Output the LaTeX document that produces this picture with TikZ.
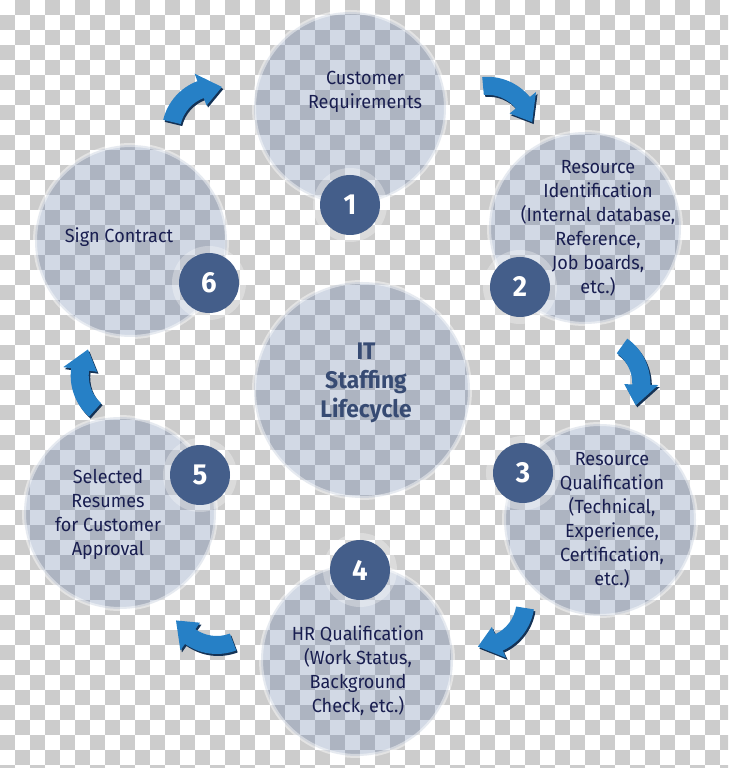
\documentclass[tikz,border=0pt]{standalone}
\usepackage{fontspec}
\setmainfont{Fira Sans}[FakeStretch=0.95]
\usetikzlibrary{positioning}
\definecolor{checkgray}{RGB}{204,204,204}
\definecolor{bubblefill}{RGB}{95,120,165}
\definecolor{badgeblue}{RGB}{68,94,138}
\definecolor{labelnavy}{RGB}{25,30,80}
\definecolor{titleblue}{RGB}{55,75,115}
\definecolor{arrowblue}{RGB}{38,128,198}
\definecolor{arrowdark}{RGB}{20,50,85}

\begin{document}
\begin{tikzpicture}[
  x=1pt, y=1pt,
  bubble/.style={circle, inner sep=0pt, minimum size=192pt,
                 fill=bubblefill, fill opacity=0.28,
                 draw=white, draw opacity=0.45, line width=4pt},
  hub/.style={bubble, minimum size=216pt},
  halo/.style={circle, inner sep=0pt, minimum size=74pt,
               fill=white, fill opacity=0.3},
  badge/.style={circle, inner sep=0pt, minimum size=60pt,
                fill=badgeblue, text=white,
                font=\fontsize{29}{29}\selectfont\bfseries},
  stagetext/.style={align=center, text=labelnavy,
                    font=\fontsize{19}{24}\selectfont},
  title/.style={align=center, text=titleblue,
                font=\fontsize{24}{29}\selectfont\bfseries},
  pics/bend/.style 2 args={code={
    \fill[arrowdark, shift={(1.5,-2)}] (#1:37) arc[start angle=#1, end angle=#2, radius=37]
      -- (#2:29) -- ({#2-27}:46) -- (#2:63) -- (#2:55)
      arc[start angle=#2, end angle=#1, radius=55] -- cycle;
    \fill[arrowblue] (#1:37) arc[start angle=#1, end angle=#2, radius=37]
      -- (#2:29) -- ({#2-27}:46) -- (#2:63) -- (#2:55)
      arc[start angle=#2, end angle=#1, radius=55] -- cycle;
  }},
]
\useasboundingbox (0,0) rectangle (728,768);
% Fondo a cuadros
\begin{scope}
  \clip (0,0) rectangle (728,768);
  \fill[white] (0,0) rectangle (728,768);
  \foreach \i in {0,...,48}{
    \foreach \j in {0,...,51}{
      \ifodd\numexpr\i+\j\relax
        \fill[checkgray] (15*\i,768-15*\j) rectangle ++(15,-15);
      \fi
    }
  }
\end{scope}
% Circulos de las etapas
\node[bubble] (req)      at (350,660) {};
\node[bubble] (ident)    at (585,540) {};
\node[bubble] (qualif)   at (600,248) {};
\node[bubble] (hrq)      at (357,108) {};
\node[bubble] (resumes)  at (120,255) {};
\node[bubble] (contract) at (131,527) {};
\node[hub]    (life)     at (362,378) {};
% Numeros
\node[halo]  (halo1) at (350,563) {};
\node[halo]  (halo2) at (520,481) {};
\node[halo]  (halo3) at (523,295) {};
\node[halo]  (halo4) at (360,198) {};
\node[halo]  (halo5) at (200,293) {};
\node[halo]  (halo6) at (209,485) {};
\node[badge] (num1) at (halo1) {1};
\node[badge] (num2) at (halo2) {2};
\node[badge] (num3) at (halo3) {3};
\node[badge] (num4) at (halo4) {4};
\node[badge] (num5) at (halo5) {5};
\node[badge] (num6) at (halo6) {6};
% Textos
\node[stagetext] (reqtxt)      at (365,676) {Customer\\Requirements};
\node[stagetext] (identtxt)    at (598,540) {Resource\\Identification\\(Internal database,\\Reference,\\Job boards,\\etc.)};
\node[stagetext] (qualiftxt)   at (612,248) {Resource\\Qualification\\(Technical,\\Experience,\\Certification,\\etc.)};
\node[stagetext] (hrqtxt)      at (358,97)  {HR Qualification\\(Work Status,\\Background\\Check, etc.)};
\node[stagetext] (resumestxt)  at (108,254) {Selected\\Resumes\\for Customer\\Approval};
\node[stagetext] (contracttxt) at (119,531) {Sign Contract};
\node[title]     (lifetxt)     at (366,385) {IT\\Staffing\\Lifecycle};
% Flechas curvas del ciclo
\pic at (216.7,635.3) {bend={166.5}{110.5}};
\pic at (487.2,636.2) {bend={95.2}{39.2}};
\pic at (595.3,384.6) {bend={54.5}{-1.5}};
\pic at (479.6,167.3) {bend={-9.1}{-65.1}};
\pic at (216.7,169)   {bend={290.8}{234.8}};
\pic at (125.7,392.3) {bend={228.2}{172.2}};
\end{tikzpicture}
\end{document}
